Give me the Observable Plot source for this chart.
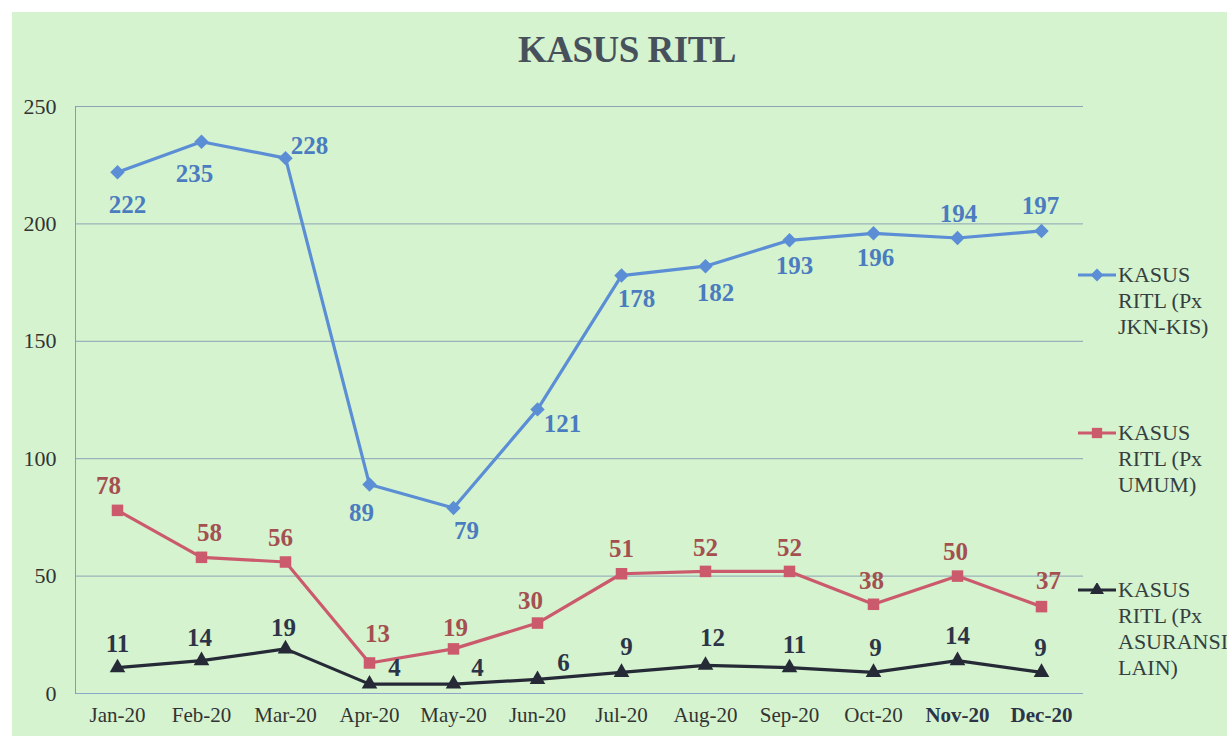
<!DOCTYPE html>
<html>
<head>
<meta charset="utf-8">
<script src="https://cdn.jsdelivr.net/npm/d3@7"></script>
<script src="https://cdn.jsdelivr.net/npm/@observablehq/plot@0.6"></script>
<style>
  html, body { margin: 0; padding: 0; background: #ffffff; overflow: hidden; font-family: "Liberation Serif", "DejaVu Serif", serif; }
  #page { position: relative; width: 1227px; height: 736px; overflow: hidden; background: #ffffff; }
  #bg { position: absolute; left: 12px; top: 12px; right: 0; bottom: 0; background: #d5f3cf; }
  #title { position: absolute; left: 0; width: 1254px; top: 28px; text-align: center;
           font-family: "Liberation Serif", serif; font-weight: bold; font-size: 37px;
           color: #46515c; letter-spacing: -0.5px; }
  #chart { position: absolute; left: 0; top: 0; }
  .leg { position: absolute; left: 1076px; font-family: "Liberation Serif", serif; font-size: 22px;
         line-height: 26px; color: #344040; white-space: nowrap; }
  .leg svg { position: absolute; left: 0; top: 6px; }
  .leg .txt { position: absolute; left: 42px; top: 0; font-family: "Liberation Serif", serif; }
</style>
</head>
<body>
<div id="page">
  <div id="bg"></div>
  <div id="chart"></div>
  <div id="title">KASUS RITL</div>
  <div id="legend"></div>
</div>
<script>
const months = ["Jan-20","Feb-20","Mar-20","Apr-20","May-20","Jun-20","Jul-20","Aug-20","Sep-20","Oct-20","Nov-20","Dec-20"];
const jknKis = [222,235,228,89,79,121,178,182,193,196,194,197];
const umum = [78,58,56,13,19,30,51,52,52,38,50,37];
const asuransiLain = [11,14,19,4,4,6,9,12,11,9,14,9];
const yTicks = [0,50,100,150,200,250];
const seriesNames = [["KASUS","RITL (Px","JKN-KIS)"],["KASUS","RITL (Px","UMUM)"],["KASUS","RITL (Px","ASURANSI","LAIN)"]];

// label placement offsets (pixels) relative to each point
const jknDx = [10,-7,24,-8,13,25,15,10,5,2,1,-1];
const jknDy = [33,32,-12,28,23,15,23,27,26,25,-24,-25];
const umumDx = [-9,8,-5,8,2,-7,0,0,0,-2,-2,7];
const umumDy = [-24,-24,-24,-29,-21,-22,-25,-23,-23,-23,-24,-26];
const lainDx = [0,-2,-2,25,24,26,5,7,5,2,0,-1];
const lainDy = [-24,-23,-21,-16,-16,-16,-25,-27,-23,-24,-25,-24];

const series = [
  {vals: jknKis, line: "#5b8ed5", label: "#4b7cbf", symbol: "diamond2", r: 6.5, dx: jknDx, dy: jknDy},
  {vals: umum, line: "#cb5a6c", label: "#a45050", symbol: "square", r: 6.5, dx: umumDx, dy: umumDy},
  {vals: asuransiLain, line: "#252a36", label: "#2d3448", symbol: "triangle", r: 5.8, dx: lainDx, dy: lainDy}
];

const idx = months.map((_, i) => i);
const marks = [
  Plot.gridY(yTicks, {stroke: "#8aa3b5", strokeOpacity: 1, strokeWidth: 1}),
  Plot.ruleY([0], {stroke: "#8aa6c8", strokeWidth: 1.2}),
  Plot.frame({anchor: "left", stroke: "#8d9c9c"}),
  Plot.axisY(yTicks, {tickSize: 0, tickPadding: 19, fontSize: 22, fill: "#333333", label: null}),
  Plot.axisX(months.slice(0, 10), {tickSize: 0, tickPadding: 14, fontSize: 21, fill: "#333333", label: null}),
  Plot.axisX(months.slice(10), {tickSize: 0, tickPadding: 14, fontSize: 21, fontWeight: "bold", fill: "#2d3448", label: null})
];
for (const s of series) {
  marks.push(Plot.line(idx, {x: i => months[i], y: i => s.vals[i], stroke: s.line, strokeWidth: 3.2}));
  marks.push(Plot.dot(idx, {x: i => months[i], y: i => s.vals[i], symbol: s.symbol, fill: s.line, stroke: "none", r: s.r}));
}
for (const s of series) {
  for (const i of idx) {
    marks.push(Plot.text([i], {x: i => months[i], y: i => s.vals[i], text: i => String(s.vals[i]),
      dx: s.dx[i], dy: s.dy[i], fill: s.label, fontSize: 25, fontWeight: "bold", textAnchor: "middle", lineAnchor: "middle"}));
  }
}

const chart = Plot.plot({
  width: 1227, height: 736,
  marginLeft: 75, marginRight: 144, marginTop: 106, marginBottom: 43,
  style: {background: "transparent", fontFamily: "Liberation Serif, serif", overflow: "visible"},
  x: {type: "point", domain: months, padding: 0.5, label: null},
  y: {domain: [0, 250], label: null},
  marks
});
document.getElementById("chart").appendChild(chart);

// legend
const legTops = [262, 420, 577];
const legend = document.getElementById("legend");
series.forEach((s, k) => {
  const d = document.createElement("div");
  d.className = "leg";
  d.style.top = legTops[k] + "px";
  const sym = d3.symbol(k === 0 ? d3.symbolDiamond2 : k === 1 ? d3.symbolSquare : d3.symbolTriangle, Math.PI * s.r * s.r * 0.8)();
  d.innerHTML = `<svg width="42" height="14"><line x1="2" x2="40" y1="7" y2="7" stroke="${s.line}" stroke-width="3.2"/><path d="${sym}" transform="translate(21,7)" fill="${s.line}"/></svg><div class="txt">${seriesNames[k].join("<br>")}</div>`;
  legend.appendChild(d);
});
</script>
</body>
</html>
